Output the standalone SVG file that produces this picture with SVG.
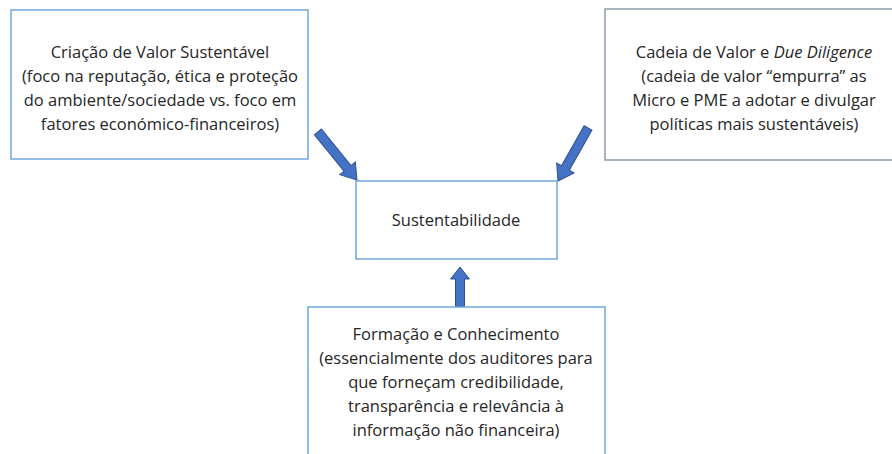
<svg xmlns="http://www.w3.org/2000/svg" width="892" height="454" viewBox="0 0 892 454">
<style>
.box{fill:#fff;stroke:#6FA8DC;stroke-width:1.5}
.box2{fill:#fff;stroke:#8C9AAB;stroke-width:1.5}
.t{font-family:"Open Sans","Noto Sans","Liberation Sans",sans-serif;font-size:16.5px;fill:#262626;text-anchor:middle}
.arr{fill:#4472C4;stroke:#2F528F;stroke-width:1}
</style>
<rect width="892" height="454" fill="#fff"/>
<g id="connectors">
<polygon class="arr" transform="translate(357,180) rotate(50.9)" points="0,0 -15,-10 -15,-4.5 -62,-4.5 -62,4.5 -15,4.5 -15,10"/>
<polygon class="arr" transform="translate(558,181) rotate(119.5)" points="0,0 -15,-10 -15,-4.5 -61,-4.5 -61,4.5 -15,4.5 -15,10"/>
<polygon class="arr" transform="translate(460,267) rotate(-90)" points="0,0 -12,-9.5 -12,-4.5 -40,-4.5 -40,4.5 -12,4.5 -12,9.5"/>
</g>
<g id="node-criacao">
<rect class="box" x="11" y="10" width="297" height="149"/>
<text class="t" x="160" y="58">Criação de Valor Sustentável</text>
<text class="t" x="160" y="82">(foco na reputação, ética e proteção</text>
<text class="t" x="160" y="106">do ambiente/sociedade vs. foco em</text>
<text class="t" x="160" y="130">fatores económico-financeiros)</text>
</g>
<g id="node-cadeia">
<rect class="box2" x="605" y="9" width="300" height="151"/>
<text class="t" x="754" y="58">Cadeia de Valor e <tspan font-style="italic">Due Diligence</tspan></text>
<text class="t" x="754" y="82">(cadeia de valor “empurra” as</text>
<text class="t" x="754" y="106">Micro e PME a adotar e divulgar</text>
<text class="t" x="754" y="130">políticas mais sustentáveis)</text>
</g>
<g id="node-sustentabilidade">
<rect class="box" x="356" y="181" width="201" height="78"/>
<text class="t" x="456" y="226">Sustentabilidade</text>
</g>
<g id="node-formacao">
<rect class="box" x="308" y="307" width="297" height="160"/>
<text class="t" x="456" y="340">Formação e Conhecimento</text>
<text class="t" x="456" y="364">(essencialmente dos auditores para</text>
<text class="t" x="456" y="388">que forneçam credibilidade,</text>
<text class="t" x="456" y="412">transparência e relevância à</text>
<text class="t" x="456" y="436">informação não financeira)</text>
</g>
</svg>
